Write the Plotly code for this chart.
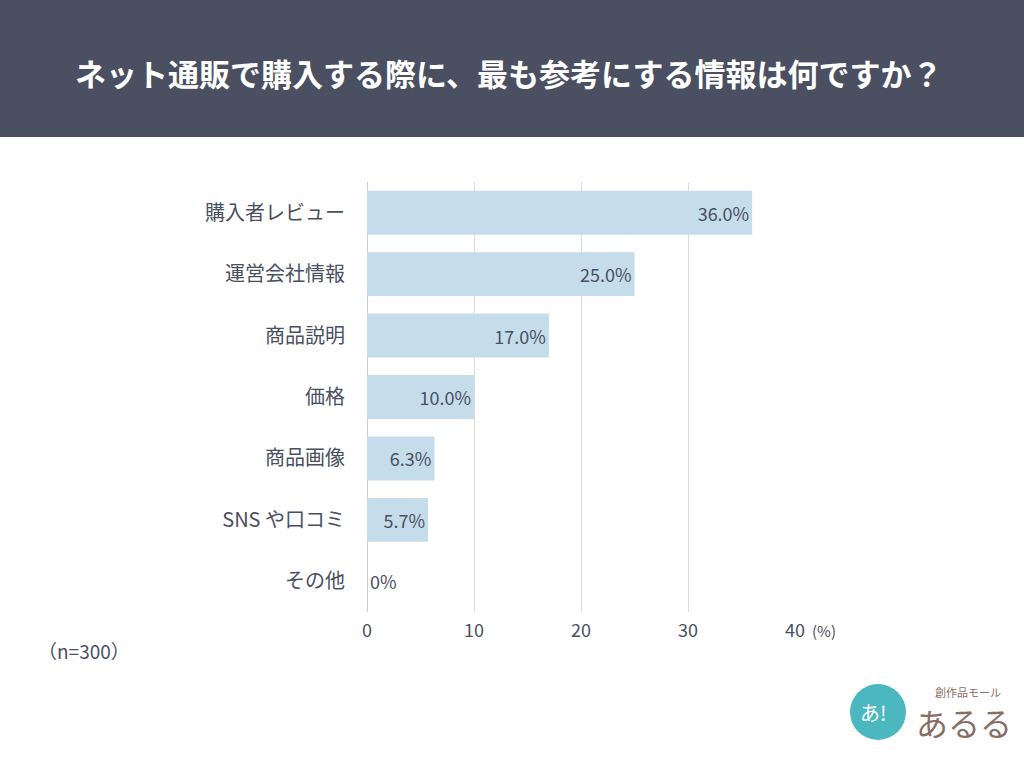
import plotly.graph_objects as go

categories = ["購入者レビュー", "運営会社情報", "商品説明", "価格", "商品画像", "SNS や口コミ", "その他"]
values = [36.0, 25.0, 17.0, 10.0, 6.3, 5.7, 0.0]
value_labels = ["36.0%", "25.0%", "17.0%", "10.0%", "6.3%", "5.7%", "0%"]
x_ticks = [0, 10, 20, 30, 40]
title_text = "ネット通販で購入する際に、最も参考にする情報は何ですか？"
sample_note = "（n=300）"

W, H = 1024, 768
L, R, T, B = 367, 229, 182, 156
pw, ph = W - L - R, H - T - B

def px(xp):
    return (xp - L) / pw

def py(yp):
    return (H - B - yp) / ph

TXT = "#4a5061"
FONT = "Noto Sans CJK JP"

fig = go.Figure()
fig.add_trace(go.Bar(
    y=categories, x=values, orientation="h",
    marker=dict(color="#c5ddeb", line=dict(width=0)),
    text=value_labels,
    textposition=["inside"] * 6 + ["outside"],
    insidetextanchor="end",
    textfont=dict(family=FONT, size=18, color=TXT),
    cliponaxis=False,
    hoverinfo="skip",
))

fig.update_layout(
    width=W, height=H,
    margin=dict(l=L, r=R, t=T, b=B, pad=0),
    paper_bgcolor="white", plot_bgcolor="white",
    showlegend=False,
    bargap=0.285,
    uniformtext=dict(mode=False),
    font=dict(family=FONT, color=TXT),
    xaxis=dict(
        range=[0, 40], tickvals=x_ticks, ticktext=[str(v) for v in x_ticks],
        showgrid=True, gridcolor="#dcdcdc", gridwidth=1,
        zeroline=True, zerolinecolor="#c8ccd2", zerolinewidth=1,
        showline=False, ticks="", ticklabelstandoff=6,
        tickfont=dict(family=FONT, size=18, color=TXT),
        fixedrange=True,
    ),
    yaxis=dict(
        autorange="reversed", showgrid=False, showline=False, ticks="",
        ticklabelstandoff=21,
        tickfont=dict(family=FONT, size=20, color=TXT),
        fixedrange=True,
    ),
)

# header band
fig.add_shape(type="rect", xref="paper", yref="paper",
              x0=px(0), x1=px(W), y0=py(137), y1=py(0),
              fillcolor="#4a5061", line=dict(width=0), layer="below")
fig.add_annotation(xref="paper", yref="paper", x=px(508), y=py(72),
                   text="<b>" + title_text + "</b>", showarrow=False,
                   xanchor="center", yanchor="middle",
                   font=dict(family=FONT, size=31, color="white"))

# (%) unit
fig.add_annotation(xref="paper", yref="paper", x=px(810), y=py(630),
                   text="(%)", showarrow=False, xanchor="left", yanchor="middle",
                   font=dict(family=FONT, size=15, color=TXT))
# sample size
fig.add_annotation(xref="paper", yref="paper", x=px(84), y=py(650),
                   text=sample_note, showarrow=False, xanchor="center", yanchor="middle",
                   font=dict(family=FONT, size=19, color=TXT))

# logo approximation
fig.add_shape(type="circle", xref="paper", yref="paper",
              x0=px(850), x1=px(906), y0=py(740), y1=py(684),
              fillcolor="#4bb8c0", line=dict(width=0))
fig.add_annotation(xref="paper", yref="paper", x=px(873), y=py(712),
                   text="あ!", showarrow=False, xanchor="center", yanchor="middle",
                   font=dict(family=FONT, size=20, color="white"))
fig.add_annotation(xref="paper", yref="paper", x=px(968), y=py(692),
                   text="創作品モール", showarrow=False, xanchor="center", yanchor="middle",
                   font=dict(family=FONT, size=11, color="#8a6d63"))
fig.add_annotation(xref="paper", yref="paper", x=px(964), y=py(722),
                   text="あるる", showarrow=False, xanchor="center", yanchor="middle",
                   font=dict(family=FONT, size=32, color="#8a6d63"))

fig.write_html("out.html", config={"displayModeBar": False})
